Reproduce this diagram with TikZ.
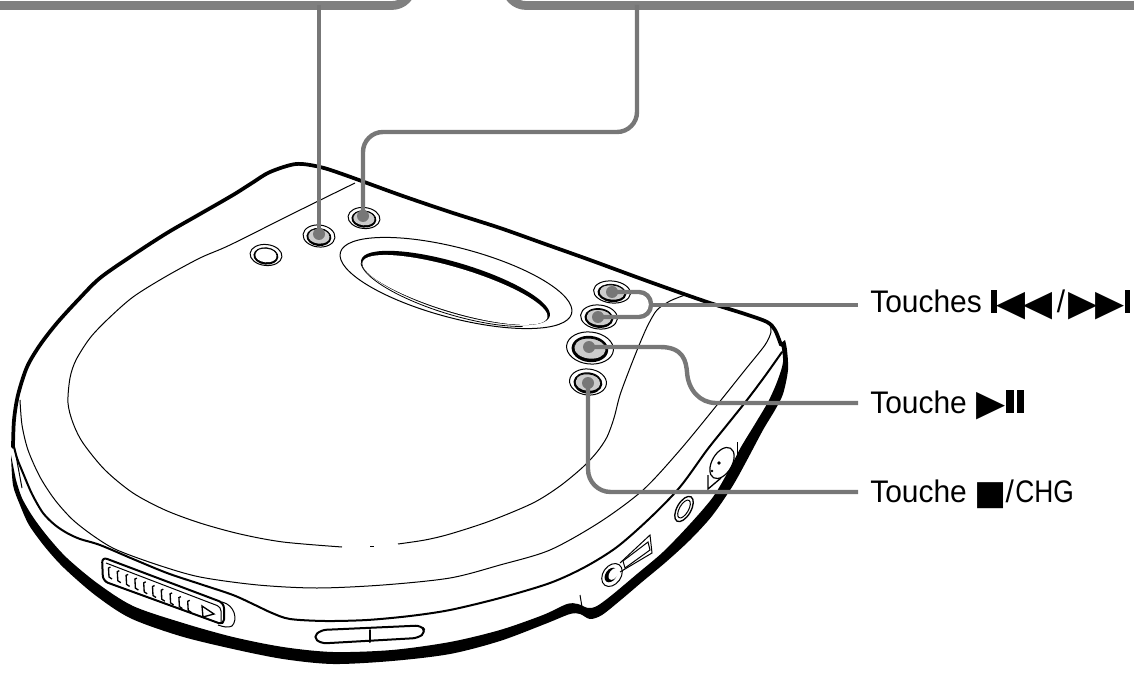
\documentclass[tikz,border=0pt]{standalone}
\usepackage{fontspec}
\setmainfont[FakeStretch=0.96]{Liberation Sans}
\newfontfamily\symfont{DejaVu Sans}
\newcommand\lblsize{\fontsize{23.4pt}{26pt}\selectfont}
\newcommand\tr{\raisebox{-1.9pt}{\scalebox{1.05}[1.0]{\fontsize{27pt}{27pt}\symfont ▶}}}
\newcommand\tl{\raisebox{-1.9pt}{\scalebox{1.05}[1.0]{\fontsize{27pt}{27pt}\symfont ◀}}}
\newcommand\sq{\raisebox{-1.5pt}{\fontsize{25.5pt}{27pt}\symfont ■}}
\newcommand\bbar{\rule{4.2pt}{17pt}}
\newcommand\pbar{\rule{5.6pt}{17pt}}
\newcommand\btnbody[5]{%
  \fill[black,rotate around={-6:(#1,#2)}] (#1,#2+1) ellipse [x radius=#3*.78,y radius=#4*.82];
  \draw[thinl,rotate around={-6:(#1,#2)}] (#1,#2) ellipse [x radius=#3,y radius=#4];
  \fill[#5,rotate around={-6:(#1,#2)}] (#1,#2+1) ellipse [x radius=#3*.66,y radius=#4*.6];
  \fill[#5,rotate around={-6:(#1,#2)}] (#1,#2-1) ellipse [x radius=#3*.66,y radius=#4*.55];
  \draw[black,line width=.6pt,rotate around={-6:(#1,#2)}] (#1-#3*.66,#2-1) arc[start angle=180,end angle=360,x radius=#3*.66,y radius=#4*.55];
}
\tikzset{
  thinl/.style={line width=.75pt,black},
  medl/.style={line width=1.5pt,black,line cap=round,line join=round},
  thickl/.style={line width=2.8pt,black,line cap=round,line join=round},
  leader/.style={line width=3.3pt,leadg},
  boxl/.style={line width=6.6pt,boxg},
  lbl/.style={anchor=base west,inner sep=0pt,font=\lblsize,text=black},
  sm/.style={smooth,tension=.5},
}
\definecolor{leadg}{HTML}{777777}
\definecolor{boxg}{HTML}{808080}
\definecolor{capg}{HTML}{CCCCCC}
\begin{document}
\begin{tikzpicture}[x=.75pt,y=-.75pt]
\useasboundingbox (0,0) rectangle (1134,673);
% top thick outline
\draw[thickl] plot[sm] coordinates {(13,447) (14,420) (18,395) (27,367) (40,345) (57,323) (78,300) (100,278) (133,255) (167,233) (200,214) (233,195) (252,183) (270,172) (296,164) (320,167) (345,175) (400,195) (450,212) (500,228) (545,244) (590,260) (650,282) (707,302) (745,314) (767,322) (775,330) (781,345)};
% bottom crescent
\fill[black] plot[sm] coordinates {(781,343) (783,362) (777,382) (768,402) (755,424) (741,447) (729,470) (713,497) (690,524) (663,552) (637,574) (612,595) (597,606) (588,608) (578,604) (567,604) (543,615) (500,630) (450,642) (392,650) (333,652) (283,647) (233,637) (183,623) (133,606) (97,583) (67,558) (48,537) (33,517) (22,498) (16,480)}
 -- plot[sm] coordinates {(11,455) (13,485) (20,505) (29,525) (45,547) (64,568) (95,595) (130,618) (180,636) (233,649) (283,659) (333,664) (392,661) (450,654) (500,641) (545,624) (570,614) (580,614) (590,619) (602,615) (622,599) (642,582) (666,562) (690,540) (712,516) (732,487) (746,462) (763,430) (775,410) (783,394) (788,370) (787,350) (785,340)} -- cycle;
% rim line
\draw[medl] plot[sm] coordinates {(782,352) (765,376) (747,400) (727,425) (707,450) (680,487) (650,518) (617,547) (585,567) (550,583) (500,598) (450,610) (410,616) (367,620) (325,621) (290,619) (272,613) (255,605) (233,595) (200,584) (167,573) (133,559) (100,545) (80,539) (67,533) (55,525) (43,513) (32,494) (23,473) (17,458) (13,443)};
% left nib
\draw[thinl] (14,445) -- (22,488);
% lid outer thin line
\draw[thinl] plot[sm] coordinates {(20,400) (22,425) (28,450) (40,477) (55,500) (73,520) (95,537) (117,550) (158,565) (200,577) (258,585) (317,588) (383,585) (450,578) (500,565) (550,550) (600,522) (643,490) (680,450) (717,405) (745,370) (765,345) (771,332) (770,325)};
% lid inner thin line
\draw[thinl] plot[sm] coordinates {(355,183) (292,214) (230,245) (200,258) (165,277) (133,297) (108,319) (90,338) (76,360) (70,378) (68,403) (73,423) (83,443) (105,470) (133,493) (165,510) (200,523) (240,534) (283,542) (342,547)};
\draw[thinl] (370,546) -- (374,546);
\draw[thinl] plot[sm] coordinates {(398,544) (425,540) (450,534) (490,521) (533,503) (560,486) (583,467) (597,452) (607,437) (614,418) (620,395) (630,368) (640,343) (648,325) (657,310) (670,301) (685,295)};
% display
\draw[thinl] (456,283) ellipse [x radius=119.6,y radius=35,rotate=-14.8];
\begin{scope}[shift={(455.5,288)},rotate=-16.8]
  \fill[black] (0,0) ellipse [x radius=98.4,y radius=25];
  \fill[white] (0,2) ellipse [x radius=96.5,y radius=22];
  \draw[thinl,line width=.6pt] plot[domain=40:172,samples=40] ({98.5*cos(\x)},{27*sin(\x)});
\end{scope}
% plain button
\btnbody{266}{255}{16}{10.5}{white}
% slider
\draw[medl,rounded corners=4pt] (102,557) -- (224,603) -- (224,625) -- (103,581) -- cycle;
\draw[thinl,rounded corners=3pt] (106,563) -- (221,607) -- (221,622);
\draw[thinl] (222,602) .. controls (235,605) and (238,620) .. (232,626) .. controls (228,628) and (224,627) .. (218,625);
\foreach \i in {0,...,9}{
  \draw[thinl,line width=1pt] ({110.5+8.8*\i},{567+3.7*\i}) -- ({108.5+8.8*\i},{568+3.7*\i}) -- ({109+8.8*\i},{577+3.7*\i}) -- ({112+8.8*\i},{579+3.7*\i});
}
\draw[thinl,line width=1pt] (202,606) -- (214,614) -- (203,617) -- cycle;
% front switch
\draw[medl,rounded corners=4pt] (313,637) -- (321,630) -- (421,625.5) -- (426,632) -- (418,638) -- (321,643.5) -- cycle;
\draw[medl] (370,630) -- (370,642);
% jack
\draw[thinl] (612,575) ellipse [x radius=12.5,y radius=9,rotate=55];
\fill[black] (611,575) ellipse [x radius=8,y radius=5.5,rotate=55];
\fill[white] (613.5,574) ellipse [x radius=6.5,y radius=4,rotate=55];
\draw[thinl] (620,563) -- (650,535) -- (652,553) -- (620,572);
\draw[thinl] (623,561) -- (648,542) -- (650,550) -- (625,568) -- cycle;
\draw[thinl,line width=1pt] (684,509) ellipse [x radius=14,y radius=7,rotate=60];
\draw[thinl] (684,509) ellipse [x radius=10,y radius=4.5,rotate=60];
\draw[thinl] (580,595) -- (582,607);
% dial
\draw[thinl,line width=.9pt] (722,463) ellipse [x radius=17,y radius=10,rotate=60];
\fill (719,463) circle (1.8);
\fill (712,471) circle (1.3);
\draw[thinl,line width=1pt] (708,475) -- (708,489) -- (721,478);
\draw[thinl] (737,442) -- (737,458);
% named button centres
\coordinate (b1) at (319,234);
\coordinate (b2) at (363,216);
\coordinate (b3) at (612,292);
\coordinate (b4) at (598,317);
\coordinate (b5) at (589,347);
\coordinate (b6) at (588,383);
\coordinate (e3) at (858,305);
\coordinate (e5) at (858,403);
\coordinate (e6) at (858,492);
\coordinate (t1) at (319,5);
\coordinate (t2) at (637,5);
% pressed buttons
\btnbody{319}{236}{16}{11}{capg}
\btnbody{364}{218}{16}{10.5}{capg}
\btnbody{612}{292}{18.5}{11}{capg}
\btnbody{599}{317}{18.5}{12}{capg}
\btnbody{590}{348}{23.5}{16}{capg}
\btnbody{588}{382}{18.5}{13}{capg}
\foreach \c in {b1,b2,b3,b4,b5,b6}{\fill[leadg] (\c) circle (6);}
% callout boxes
\draw[boxl,rounded corners=15pt] (-20,5.5) -- (412,5.5) -- (412,-20);
\draw[boxl,rounded corners=15pt] (1154,5.5) -- (506,5.5) -- (506,-20);
% leaders
\draw[leader] (b1) -- (t1);
\draw[leader,rounded corners=15pt] (b2) -- (363,132) -- (637,132) -- (t2);
\draw[leader,rounded corners=9pt] (b3) -- (651,292) -- (651,317) -- (b4);
\draw[leader] (651,305) -- (e3);
\draw[leader] (b5) -- (660,347) .. controls (684,347) and (686,362) .. (687,372) .. controls (688,390) and (700,403) .. (716,403) -- (e5);
\draw[leader,rounded corners=17pt] (b6) -- (588,492) -- (e6);
% labels
\node[lbl] (lab1) at (870,313) {Touches\kern7pt\bbar\tl\kern-1.5pt\tl\kern3pt/\kern2.5pt\tr\kern-1.5pt\tr\bbar};
\node[lbl] (lab2) at (870,413) {Touche\kern7pt\tr\kern.7pt\pbar\kern2.2pt\pbar};
\node[lbl] (lab3) at (870,502) {Touche\kern5.5pt\sq\kern-.5pt/\kern1pt\scalebox{.88}[1]{CHG}};
\end{tikzpicture}
\end{document}
